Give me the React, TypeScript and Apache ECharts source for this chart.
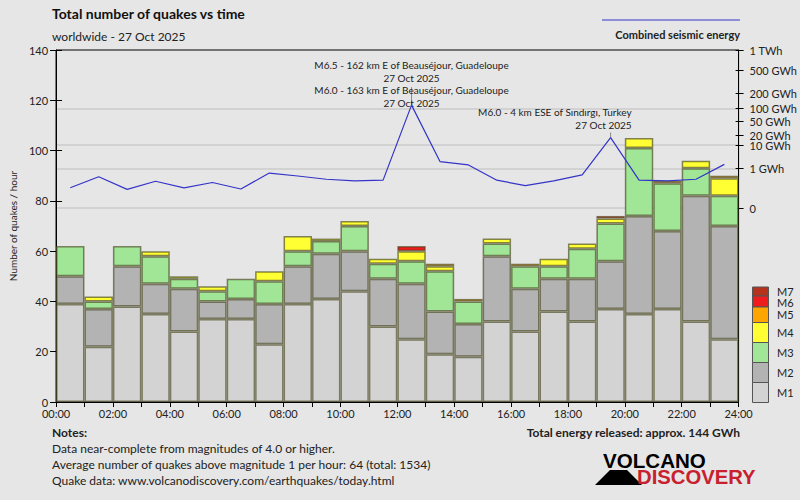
import React, { useEffect, useRef } from "react";
import * as echarts from "echarts";

const hourSlots = [
  "00", "01", "02", "03", "04", "05", "06", "07", "08", "09", "10", "11",
  "12", "13", "14", "15", "16", "17", "18", "19", "20", "21", "22", "23",
];
const timeTicks = [
  "00:00", "02:00", "04:00", "06:00", "08:00", "10:00", "12:00",
  "14:00", "16:00", "18:00", "20:00", "22:00", "24:00",
];

const magnitudeNames = ["M1", "M2", "M3", "M4", "M5", "M6", "M7"];
const magnitudeColors = ["#d3d3d3", "#b3b3b3", "#a0e696", "#ffff33", "#ffa500", "#ee1c1c", "#b5331c"];

// quakes per hour, by magnitude class
const quakesM1 = [39, 22, 38, 35, 28, 33, 33, 23, 39, 41, 44, 30, 25, 19, 18, 32, 28, 36, 32, 37, 35, 37, 32, 25];
const quakesM2 = [11, 15, 16, 12, 17, 7, 8, 16, 15, 18, 16, 19, 22, 17, 13, 26, 17, 13, 17, 19, 39, 31, 50, 45];
const quakesM3 = [12, 3, 8, 11, 4, 4, 8, 9, 6, 5, 10, 6, 9, 16, 9, 5, 9, 5, 12, 15, 27, 19, 11, 12];
const quakesM4 = [0, 2, 0, 2, 1, 2, 0, 4, 6, 1, 2, 2, 4, 2, 0, 2, 0, 3, 2, 2, 4, 0, 3, 7];
const quakesM5 = [0, 0, 0, 0, 0, 0, 0, 0, 0, 0, 0, 0, 0, 1, 1, 0, 1, 0, 0, 0, 0, 1, 0, 1];
const quakesM6 = [0, 0, 0, 0, 0, 0, 0, 0, 0, 0, 0, 0, 2, 0, 0, 0, 0, 0, 0, 1, 0, 0, 0, 0];
const quakesM7 = [0, 0, 0, 0, 0, 0, 0, 0, 0, 0, 0, 0, 0, 0, 0, 0, 0, 0, 0, 0, 0, 0, 0, 0];

// combined seismic energy per hour, GWh
const energyGWh = [
  0.035, 0.3, 0.023, 0.14, 0.033, 0.11, 0.025, 0.53, 0.34, 0.2, 0.15, 0.17,
  117, 2.2, 1.5, 0.17, 0.056, 0.15, 0.4, 17.6, 0.17, 0.15, 0.2, 1.6,
];
const energyTickValues = [0, 1, 10, 20, 50, 100, 200, 500, 1000];
const energyTickLabels = ["0", "1 GWh", "10 GWh", "20 GWh", "50 GWh", "100 GWh", "200 GWh", "500 GWh", "1 TWh"];
const energyGridValues = [0, 1, 10, 100];

const quakeNotes = [
  {
    hour: "12",
    lines: [
      "M6.5 - 162 km E of Beauséjour, Guadeloupe",
      "27 Oct 2025",
      "M6.0 - 163 km E of Beauséjour, Guadeloupe",
      "27 Oct 2025",
    ],
  },
  { hour: "19", lines: ["M6.0 - 4 km ESE of Sındırgı, Turkey", "27 Oct 2025"] },
];

const root5 = (v: number) => Math.pow(v, 0.2);

export default function App() {
  const chartRef = useRef<HTMLDivElement>(null);

  useEffect(() => {
    const chart = echarts.init(chartRef.current!, null, { renderer: "svg" });
    const font = "Lato, 'Open Sans', sans-serif";
    const ink = "#222";

    // energy axis is linear in E^(1/5); zero sits at y=208 of a 50..402 plot
    const eMax = root5(1000);
    const eMin = eMax - eMax * (352 / 158);
    const energyTicks = energyTickValues.map(root5);
    const energyLabel = (v: number) => {
      const i = energyTicks.findIndex((t) => Math.abs(t - v) < 1e-6);
      return i >= 0 ? energyTickLabels[i] : "";
    };

    const quakeSeries = [quakesM1, quakesM2, quakesM3, quakesM4, quakesM5, quakesM6, quakesM7];

    const bars = quakeSeries.map((vals, i) => ({
      name: magnitudeNames[i],
      type: "bar",
      stack: "quakes",
      xAxisIndex: 0,
      yAxisIndex: 0,
      barCategoryGap: "0%",
      data: vals.map((v) => (v > 0 ? v : null)),
      itemStyle: {
        color: magnitudeColors[i],
        borderColor: "rgba(70,70,30,0.65)",
        borderWidth: 1.5,
      },
      silent: true,
    }));

    const legendBoxes = [
      { y: 287, h: 9 },
      { y: 296, h: 11 },
      { y: 307, h: 15.5 },
      { y: 322.5, h: 20 },
      { y: 342.5, h: 20 },
      { y: 362.5, h: 20 },
      { y: 382.5, h: 20 },
    ];
    const legendGraphics: any[] = [];
    legendBoxes.forEach((b, k) => {
      const m = 6 - k;
      legendGraphics.push({
        type: "rect",
        shape: { x: 752.5, y: b.y, width: 16, height: b.h },
        style: { fill: magnitudeColors[m], stroke: "#555", lineWidth: 1 },
      });
      legendGraphics.push({
        type: "text",
        x: 777,
        y: b.y + b.h / 2 + (m === 6 ? -0.5 : m === 5 ? 0.5 : 0),
        style: {
          text: magnitudeNames[m],
          font: `11px ${font}`,
          lineHeight: 9,
          fill: ink,
          textVerticalAlign: "middle",
        },
      });
    });

    chart.setOption({
      animation: false,
      backgroundColor: "#e6e6e6",
      textStyle: { fontFamily: font },
      grid: {
        left: 52,
        right: 60,
        top: 50,
        bottom: 98,
        show: true,
        borderColor: "#000",
        borderWidth: 1,
        backgroundColor: "transparent",
      },
      xAxis: [
        {
          type: "category",
          data: hourSlots,
          boundaryGap: true,
          axisLine: { lineStyle: { color: "#000", width: 1 } },
          axisTick: { show: true, interval: 0, length: 5, lineStyle: { color: "#000" } },
          axisLabel: { show: false },
          splitLine: { show: false },
        },
        {
          type: "value",
          min: 0,
          max: 24,
          interval: 2,
          position: "bottom",
          axisLine: { show: false },
          axisTick: { show: false },
          splitLine: { show: false },
          axisLabel: {
            margin: 6,
            fontSize: 11,
            color: ink,
            showMinLabel: true,
            showMaxLabel: true,
            formatter: (v: number) => timeTicks[Math.round(v / 2)],
          },
        },
      ],
      yAxis: [
        {
          type: "value",
          min: 0,
          max: 140,
          interval: 20,
          position: "left",
          name: "Number of quakes / hour",
          nameLocation: "middle",
          nameGap: 32,
          nameTextStyle: { fontSize: 10, color: ink },
          axisLine: { show: true, lineStyle: { color: "#000" } },
          axisTick: { show: true, length: 6, lineStyle: { color: "#000" } },
          axisLabel: { fontSize: 11, color: ink, margin: 8 },
          splitLine: { show: false },
        },
        {
          type: "value",
          min: eMin,
          max: eMax,
          position: "right",
          axisLine: { show: true, lineStyle: { color: "#000" } },
          axisTick: { show: true, length: 5, customValues: energyTicks, lineStyle: { color: "#000" } },
          axisLabel: {
            customValues: energyTicks,
            fontSize: 11,
            lineHeight: 9,
            color: ink,
            margin: 11,
            formatter: energyLabel,
          },
          splitLine: { show: false },
        },
        {
          type: "value",
          min: eMin,
          max: eMax,
          position: "right",
          axisLine: { show: false },
          axisTick: { show: false, customValues: energyGridValues.map(root5) },
          axisLabel: { show: false, customValues: energyGridValues.map(root5) },
          splitLine: { show: true, lineStyle: { color: "#d2d2d2", width: 2 } },
        },
        {
          type: "value",
          min: 0,
          max: 140,
          interval: 20,
          position: "left",
          axisLine: { show: false },
          axisTick: { show: true, inside: true, length: 6, lineStyle: { color: "#000" } },
          axisLabel: { show: false },
          splitLine: { show: false },
        },
        {
          type: "value",
          min: eMin,
          max: eMax,
          position: "right",
          axisLine: { show: false },
          axisTick: { show: true, inside: true, length: 3, customValues: energyTicks, lineStyle: { color: "#000" } },
          axisLabel: { show: false, customValues: energyTicks },
          splitLine: { show: false },
        },
      ],
      series: [
        ...bars,
        {
          name: "Combined seismic energy",
          type: "line",
          xAxisIndex: 0,
          yAxisIndex: 1,
          data: energyGWh.map(root5),
          symbol: "none",
          z: 5,
          lineStyle: { color: "#3434c8", width: 1.2 },
          silent: true,
          markPoint: {
            silent: true,
            symbol: "rect",
            itemStyle: { color: "#8a8a8a" },
            data: [
              {
                coord: [quakeNotes[0].hour, root5(energyGWh[hourSlots.indexOf(quakeNotes[0].hour)])],
                symbolSize: [1, 18],
                symbolOffset: [0, -9],
                label: {
                  show: true,
                  position: "top",
                  distance: 0,
                  offset: [0, 22],
                  align: "center",
                  formatter: quakeNotes[0].lines.join("\n"),
                  fontSize: 10,
                  lineHeight: 12.5,
                  color: ink,
                  fontFamily: font,
                },
              },
              {
                coord: [quakeNotes[1].hour, root5(energyGWh[hourSlots.indexOf(quakeNotes[1].hour)])],
                symbolSize: [1, 5],
                symbolOffset: [0, -2.5],
                label: {
                  show: true,
                  position: "top",
                  distance: 1,
                  offset: [21, 0],
                  align: "right",
                  formatter: quakeNotes[1].lines.join("\n"),
                  fontSize: 10,
                  lineHeight: 13,
                  color: ink,
                  fontFamily: font,
                },
              },
            ],
          },
        },
      ],
      graphic: [
        {
          type: "text",
          x: 52,
          y: 13,
          style: {
            text: "Total number of quakes vs time",
            font: `bold 14px ${font}`,
            fill: "#111",
            textVerticalAlign: "middle",
          },
        },
        {
          type: "text",
          x: 52,
          y: 36,
          style: {
            text: "worldwide - 27 Oct 2025",
            font: `12px ${font}`,
            fill: ink,
            textVerticalAlign: "middle",
          },
        },
        {
          type: "line",
          shape: { x1: 602, y1: 20, x2: 740, y2: 20 },
          style: { stroke: "#3434c8", lineWidth: 1.2 },
        },
        {
          type: "text",
          x: 740,
          y: 34,
          style: {
            text: "Combined seismic energy",
            font: `bold 11px ${font}`,
            fill: ink,
            textAlign: "right",
            textVerticalAlign: "middle",
          },
        },
        ...legendGraphics,
        {
          type: "text",
          x: 52,
          y: 432,
          style: { text: "Notes:", font: `bold 12px ${font}`, fill: ink, textVerticalAlign: "middle" },
        },
        {
          type: "text",
          x: 52,
          y: 448,
          style: {
            text: "Data near-complete from magnitudes of 4.0 or higher.",
            font: `12px ${font}`,
            fill: ink,
            textVerticalAlign: "middle",
          },
        },
        {
          type: "text",
          x: 52,
          y: 464,
          style: {
            text: "Average number of quakes above magnitude 1 per hour: 64 (total: 1534)",
            font: `12px ${font}`,
            fill: ink,
            textVerticalAlign: "middle",
          },
        },
        {
          type: "text",
          x: 52,
          y: 480,
          style: {
            text: "Quake data: www.volcanodiscovery.com/earthquakes/today.html",
            font: `12px ${font}`,
            fill: ink,
            textVerticalAlign: "middle",
          },
        },
        {
          type: "text",
          x: 740,
          y: 432,
          style: {
            text: "Total energy released: approx. 144 GWh",
            font: `bold 12px ${font}`,
            fill: ink,
            textAlign: "right",
            textVerticalAlign: "middle",
          },
        },
        // logo
        {
          type: "polygon",
          shape: { points: [[595, 485], [610, 470], [627, 470], [642, 485]] },
          style: { fill: "#000" },
        },
        {
          type: "text",
          x: 603,
          y: 460,
          scaleX: 0.98,
          style: {
            text: "VOLCANO",
            font: `bold 21px 'Liberation Sans', Arial, sans-serif`,
            fill: "#000",
            textVerticalAlign: "middle",
          },
        },
        {
          type: "text",
          x: 637,
          y: 477.5,
          scaleX: 1.04,
          style: {
            text: "DISCOVERY",
            font: `bold 19.5px 'Liberation Sans', Arial, sans-serif`,
            fill: "#c8202e",
            textVerticalAlign: "middle",
          },
        },
      ],
    });

    return () => {
      chart.dispose();
    };
  }, []);

  return (
    <div
      ref={chartRef}
      style={{ position: "fixed", left: 0, top: 0, width: 800, height: 500, background: "#e6e6e6" }}
    />
  );
}
